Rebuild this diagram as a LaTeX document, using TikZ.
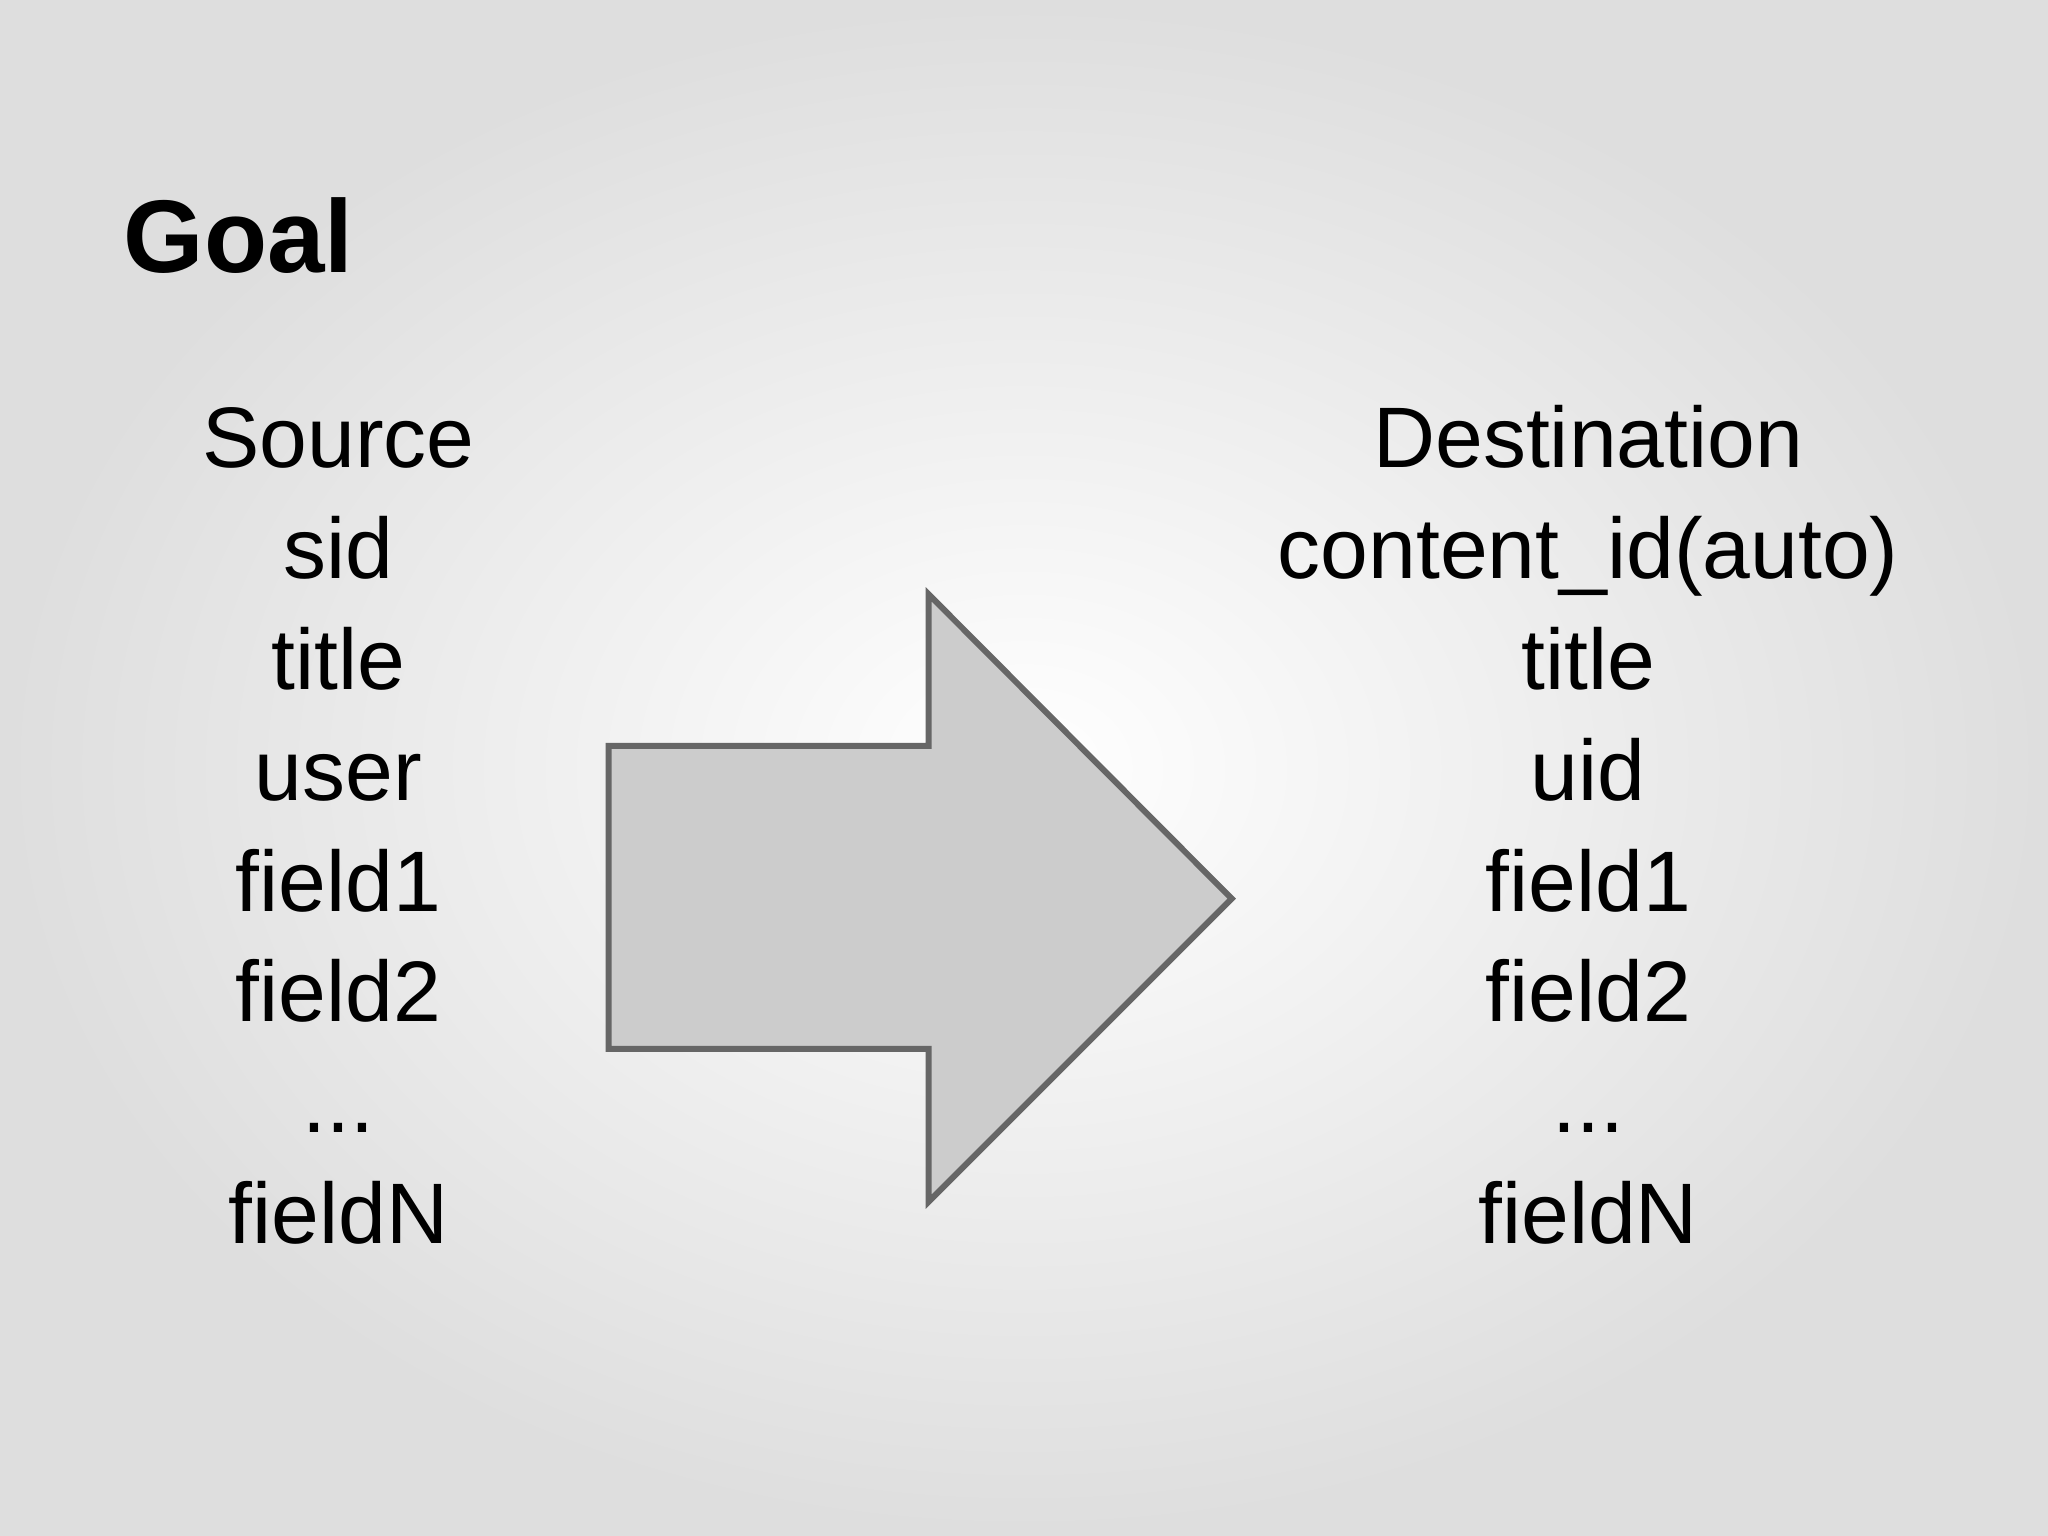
\documentclass[tikz,border=0pt]{standalone}
\usepackage{fontspec}
\setmainfont{Liberation Sans}
\begin{document}
\begin{tikzpicture}[x=0.01cm,y=-0.01cm,
  item/.style={anchor=base,inner sep=0pt,font=\fontsize{18.7pt}{22pt}\selectfont}]
\useasboundingbox (0,0) rectangle (1568,1176);
\shade[inner color=white,outer color=black!13] (0,0) rectangle (1568,1176);
\node[anchor=base west,inner sep=0pt,font=\fontsize{22.5pt}{26pt}\selectfont\bfseries] (goal) at (94,209) {Goal};
\node[item] (s1) at (259,358) {Source};
\node[item] (s2) at (259,443) {sid};
\node[item] (s3) at (259,528) {title};
\node[item] (s4) at (259,613) {user};
\node[item] (s5) at (259,698) {field1};
\node[item] (s6) at (259,782) {field2};
\node[item] (s7) at (259,867) {...};
\node[item] (s8) at (259,952) {fieldN};
\node[item] (d1) at (1216,358) {Destination};
\node[item] (d2) at (1216,443) {content\_id(auto)};
\node[item] (d3) at (1216,528) {title};
\node[item] (d4) at (1216,613) {uid};
\node[item] (d5) at (1216,698) {field1};
\node[item] (d6) at (1216,782) {field2};
\node[item] (d7) at (1216,867) {...};
\node[item] (d8) at (1216,952) {fieldN};
\draw[fill=black!20,draw=black!60,line width=1.3pt,line join=miter]
  (466,571) -- (711,571) -- (711,455) -- (943,688) -- (711,920) -- (711,803) -- (466,803) -- cycle;
\end{tikzpicture}
\end{document}
